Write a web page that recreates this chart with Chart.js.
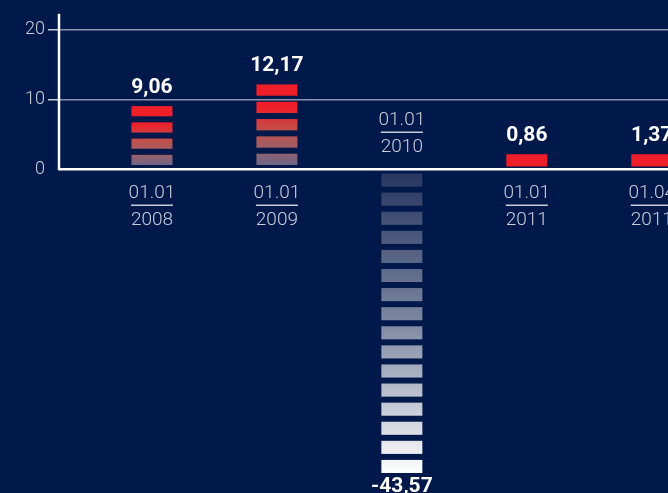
<!DOCTYPE html>
<html>
<head>
<meta charset="utf-8">
<script src="https://cdn.jsdelivr.net/npm/chart.js@4.4.1/dist/chart.umd.min.js"></script>
<style>
  html, body { margin: 0; padding: 0; background: #00184a; }
  #wrap { width: 668px; height: 493px; }
</style>
</head>
<body>
<div id="wrap"><canvas id="chart"></canvas></div>
<script>
// data
const dates = ["01.01", "01.01", "01.01", "01.01", "01.04"];
const years = ["2008", "2009", "2010", "2011", "2011"];
const values = [9.06, 12.17, -43.57, 0.86, 1.37];
const yTicks = [0, 10, 20];

const FONT = "Roboto, 'Liberation Sans', sans-serif";
const LIGHT = "#c9cdda";
const RED = "#ee1f29";

function fmt(v) {
  return v.toFixed(2).replace(".", ",");
}

// draws the striped bars, value labels, date labels and the y axis line
const stripes = {
  id: "stripes",
  afterDatasetsDraw(chart) {
    const ctx = chart.ctx;
    const area = chart.chartArea;
    const yScale = chart.scales.y;
    const zero = yScale.getPixelForValue(0);
    const meta = chart.getDatasetMeta(0);

    ctx.save();
    // y axis line, only above zero
    ctx.strokeStyle = "#ffffff";
    ctx.lineWidth = 2.5;
    ctx.beginPath();
    ctx.moveTo(area.left, area.top);
    ctx.lineTo(area.left, zero + 1);
    ctx.stroke();

    meta.data.forEach((bar, i) => {
      const v = values[i];
      const left = bar.x - bar.width / 2;
      const top = Math.min(bar.y, bar.base);
      const bottom = Math.max(bar.y, bar.base);
      const h = bottom - top;
      const start = v >= 0 && h < 25 ? 1.5 : 3;
      // split each bar into stripes of roughly the same pitch
      const n = Math.max(1, Math.ceil((h - start) / 19));
      const period = (h - start + 6) / n;
      const segH = period - 6;

      let fill;
      if (v >= 0) {
        if (h < 25) {
          fill = RED;
        } else {
          fill = ctx.createLinearGradient(0, top, 0, bottom);
          fill.addColorStop(0, RED);
          fill.addColorStop(0.28, RED);
          fill.addColorStop(0.55, "#c0504a");
          fill.addColorStop(0.78, "#9a6068");
          fill.addColorStop(0.95, "#706686");
        }
      } else {
        fill = ctx.createLinearGradient(0, top, 0, bottom);
        fill.addColorStop(0, "#26355f");
        fill.addColorStop(0.5, "#7d87a1");
        fill.addColorStop(1, "#ffffff");
      }
      ctx.fillStyle = fill;
      for (let k = 0; k < n; k++) {
        if (v >= 0) {
          const yb = bar.base - start - k * period;
          ctx.fillRect(left, yb - segH, bar.width, segH);
        } else {
          const yt = bar.base + start + k * period;
          ctx.fillRect(left, yt, bar.width, segH);
        }
      }

      // value label
      ctx.fillStyle = "#ffffff";
      ctx.font = "bold 21px " + FONT;
      ctx.textAlign = "center";
      ctx.textBaseline = "alphabetic";
      if (v >= 0) {
        ctx.fillText(fmt(v), bar.x, top - 13);
      } else {
        ctx.fillText(fmt(v), bar.x, bottom + 19);
      }

      // date label, on the opposite side of the bar
      const c = v >= 0 ? zero + 24 : zero - 49;
      ctx.fillStyle = LIGHT;
      ctx.font = "300 19px " + FONT;
      ctx.textBaseline = "middle";
      ctx.fillText(dates[i], bar.x, c);
      ctx.fillText(years[i], bar.x, c + 27);
      ctx.strokeStyle = LIGHT;
      ctx.lineWidth = 1.5;
      ctx.beginPath();
      ctx.moveTo(bar.x - 21, c + 12);
      ctx.lineTo(bar.x + 21, c + 12);
      ctx.stroke();
    });
    ctx.restore();
  }
};

new Chart(document.getElementById("chart"), {
  type: "bar",
  data: {
    datasets: [{
      data: values.map((v, i) => ({ x: i, y: v })),
      backgroundColor: "rgba(0,0,0,0)",
      barThickness: 41,
      minBarLength: 15
    }]
  },
  options: {
    responsive: true,
    maintainAspectRatio: false,
    animation: false,
    layout: { padding: { top: 12, right: 0, bottom: 20, left: 0 } },
    plugins: {
      legend: { display: false },
      tooltip: { enabled: false }
    },
    scales: {
      x: {
        type: "linear",
        display: false,
        offset: false,
        min: -0.744,
        max: 4.13
      },
      y: {
        min: -43.57,
        max: 22.3,
        afterBuildTicks(scale) {
          scale.ticks = yTicks.map((v) => ({ value: v }));
        },
        afterFit(scale) {
          scale.width = 59;
        },
        border: { display: false },
        grid: {
          color: (c) => (c.tick && c.tick.value === 0 ? "#ffffff" : "#8c93ad"),
          lineWidth: (c) => (c.tick && c.tick.value === 0 ? 2.5 : 1.5),
          tickColor: (c) => (c.tick && c.tick.value === 0 ? "rgba(0,0,0,0)" : LIGHT),
          tickLength: 11,
          tickWidth: 1.5
        },
        ticks: {
          color: LIGHT,
          padding: 3,
          font: { family: FONT, size: 18, weight: 300 }
        }
      }
    }
  },
  plugins: [stripes]
});
</script>
</body>
</html>
